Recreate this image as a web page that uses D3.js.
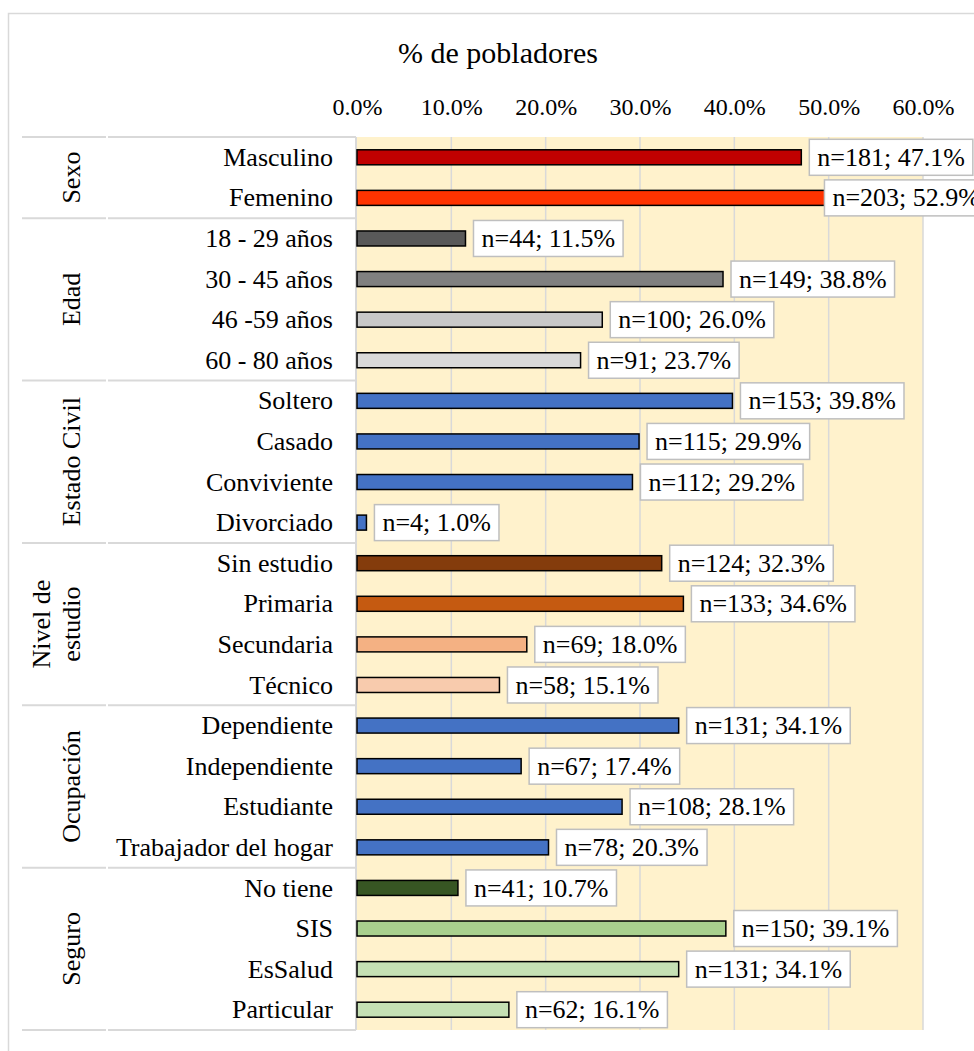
<!DOCTYPE html>
<html>
<head>
<meta charset="utf-8">
<script src="https://cdn.jsdelivr.net/npm/d3@7"></script>
<style>
  body { margin: 0; background: #fff; }
  text { font-family: "Liberation Serif", "Times New Roman", serif; fill: #000; }
</style>
</head>
<body>
<div id="chart"></div>
<script>
// data
var categories = ["Masculino", "Femenino",
    "18 - 29 años", "30 - 45 años", "46 -59 años", "60 - 80 años",
    "Soltero", "Casado", "Conviviente", "Divorciado",
    "Sin estudio", "Primaria", "Secundaria", "Técnico",
    "Dependiente", "Independiente", "Estudiante", "Trabajador del hogar",
    "No tiene", "SIS", "EsSalud", "Particular"];
var counts = [181, 203, 44, 149, 100, 91, 153, 115, 112, 4, 124, 133, 69, 58, 131, 67, 108, 78, 41, 150, 131, 62];
var percents = [47.1, 52.9, 11.5, 38.8, 26.0, 23.7, 39.8, 29.9, 29.2, 1.0, 32.3, 34.6, 18.0, 15.1, 34.1, 17.4, 28.1, 20.3, 10.7, 39.1, 34.1, 16.1];
var groupNames = [["Sexo"], ["Edad"], ["Estado Civil"], ["Nivel de", "estudio"], ["Ocupación"], ["Seguro"]];
var groupSizes = [2, 4, 4, 4, 4, 4];
var tickValues = [0, 10, 20, 30, 40, 50, 60];

// bar colours, one per category
var barColors = ["#C00000", "#FF3300",
    "#595959", "#808080", "#C8C8C8", "#D9D9D9",
    "#4472C4", "#4472C4", "#4472C4", "#4472C4",
    "#843C0C", "#C55A11", "#F4B183", "#F8CBAD",
    "#4472C4", "#4472C4", "#4472C4", "#4472C4",
    "#375623", "#A9D08E", "#C5E0B4", "#C5E0B4"];

var W = 974, H = 1051;
var chartRight = 988; // chart frame runs past the window edge
var plot = {left: 357, right: 923, top: 137, bottom: 1030};
var gridColor = "#d9d9d9";

var svg = d3.select("#chart").append("svg")
    .attr("width", W)
    .attr("height", H);

// outer chart border
svg.append("rect")
    .attr("x", 8.5).attr("y", 13.5)
    .attr("width", 990).attr("height", 1060)
    .attr("fill", "#fff")
    .attr("stroke", gridColor)
    .attr("stroke-width", 1.5);

var x = d3.scaleLinear().domain([0, 60]).range([plot.left, plot.right]);
var y = d3.scaleBand().domain(categories).range([plot.top, plot.bottom]);
var rowMid = function (c) { return y(c) + y.bandwidth() / 2; };

// plot background
svg.append("rect")
    .attr("x", x(0)).attr("y", plot.top)
    .attr("width", x(60) - x(0)).attr("height", plot.bottom - plot.top)
    .attr("fill", "#FFF2CC");

// vertical gridlines
svg.append("g").selectAll("line")
    .data(tickValues.slice(1))
    .enter().append("line")
    .attr("x1", function (d) { return x(d); })
    .attr("x2", function (d) { return x(d); })
    .attr("y1", plot.top).attr("y2", plot.bottom)
    .attr("stroke", gridColor)
    .attr("stroke-width", 1.5);

// title
svg.append("text")
    .attr("x", 498).attr("y", 63)
    .attr("text-anchor", "middle")
    .style("font-size", "30px")
    .text("% de pobladores");

// top axis
var axis = svg.append("g")
    .attr("transform", "translate(0,115)")
    .call(d3.axisTop(x)
        .tickValues(tickValues)
        .tickSize(0)
        .tickPadding(0)
        .tickFormat(function (d) { return d3.format(".1f")(d) + "%"; }));
axis.select(".domain").remove();
axis.selectAll("text")
    .style("font-family", "\"Liberation Serif\", \"Times New Roman\", serif")
    .style("font-size", "24px")
    .attr("fill", "#000");

// table lines of the category column
var bounds = [0];
groupSizes.forEach(function (n, i) { bounds.push(bounds[i] + n); });
var boundY = function (k) {
    return k < categories.length ? y(categories[k]) : plot.bottom;
};
var table = svg.append("g").attr("stroke", gridColor).attr("stroke-width", 2);
bounds.forEach(function (k) {
    table.append("line").attr("x1", 22).attr("x2", 106)
        .attr("y1", boundY(k)).attr("y2", boundY(k));
    table.append("line").attr("x1", 108).attr("x2", 356)
        .attr("y1", boundY(k)).attr("y2", boundY(k));
});
table.append("line")
    .attr("x1", 356).attr("x2", 356)
    .attr("y1", plot.top).attr("y2", plot.bottom);

// group names, rotated
groupNames.forEach(function (lines, i) {
    var cy = (boundY(bounds[i]) + boundY(bounds[i + 1])) / 2;
    lines.forEach(function (line, j) {
        var bx = 80 - (lines.length - 1 - j) * 30;
        svg.append("text")
            .attr("transform", "translate(" + bx + "," + cy + ") rotate(-90)")
            .attr("text-anchor", "middle")
            .style("font-size", "26px")
            .text(line);
    });
});

// category labels
svg.append("g").selectAll("text")
    .data(categories)
    .enter().append("text")
    .attr("x", 333)
    .attr("y", function (d) { return rowMid(d); })
    .attr("dy", "0.33em")
    .attr("text-anchor", "end")
    .style("font-size", "26px")
    .text(function (d) { return d; });

// bars first, then label boxes so later boxes sit on top
var barH = 15, boxH = 36, pad = 8;
categories.forEach(function (c, i) {
    svg.append("rect")
        .attr("x", x(0))
        .attr("y", rowMid(c) - barH / 2)
        .attr("width", x(percents[i]) - x(0))
        .attr("height", barH)
        .attr("fill", barColors[i])
        .attr("stroke", "#000")
        .attr("stroke-width", 1.5);
});
categories.forEach(function (c, i) {
    var g = svg.append("g");
    var box = g.append("rect")
        .attr("y", rowMid(c) - boxH / 2)
        .attr("height", boxH)
        .attr("fill", "#fff")
        .attr("stroke", "#bfbfbf")
        .attr("stroke-width", 1.5);
    var t = g.append("text")
        .attr("y", rowMid(c))
        .attr("dy", "0.33em")
        .style("font-size", "26px")
        .text("n=" + counts[i] + "; " + d3.format(".1f")(percents[i]) + "%");
    var bw = t.node().getComputedTextLength() + 2 * pad;
    // like Excel, pull the box back inside the chart frame when it would overflow
    var bx = Math.min(x(percents[i]) + 8, chartRight - bw);
    box.attr("x", bx).attr("width", bw);
    t.attr("x", bx + pad);
});
</script>
</body>
</html>
